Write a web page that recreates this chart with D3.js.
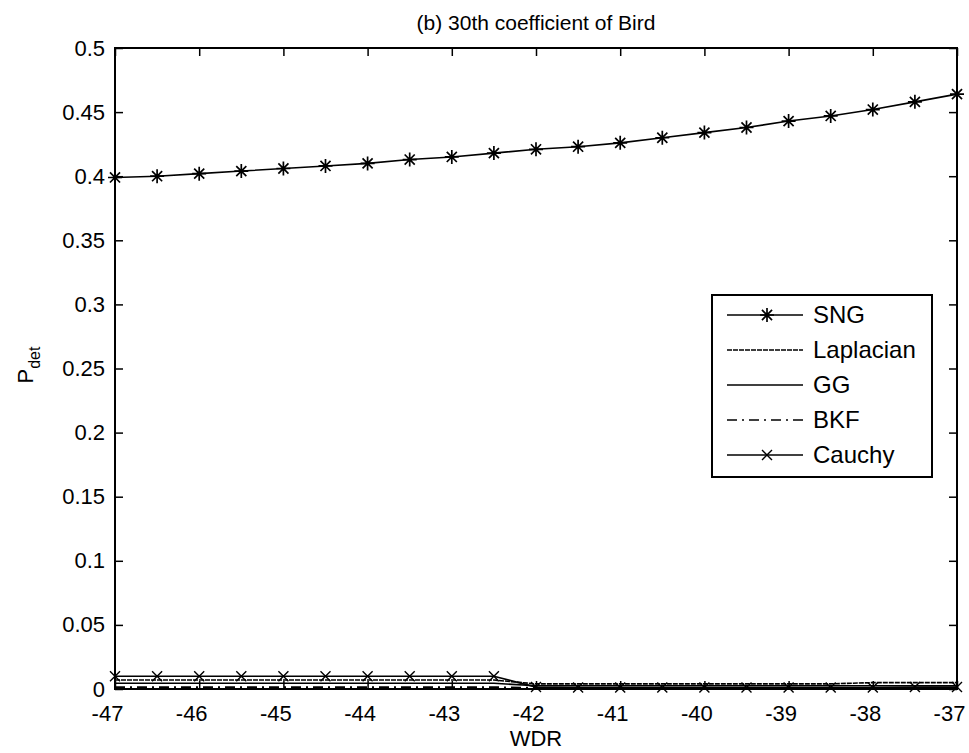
<!DOCTYPE html>
<html>
<head>
<meta charset="utf-8">
<script src="https://cdn.jsdelivr.net/npm/d3@7"></script>
<style>
  body { margin: 0; background: #fff; }
  text { font-family: "Liberation Sans", Arial, Helvetica, sans-serif; fill: #000; }
</style>
</head>
<body>
<div id="chart"></div>
<script>
// WDR values (x) - one point every 0.5
const wdr = [-47, -46.5, -46, -45.5, -45, -44.5, -44, -43.5, -43, -42.5, -42,
             -41.5, -41, -40.5, -40, -39.5, -39, -38.5, -38, -37.5, -37];

// P_det for each detector
const sng = [0.399, 0.400, 0.402, 0.404, 0.406, 0.408, 0.410, 0.413, 0.415, 0.418, 0.421,
             0.423, 0.426, 0.430, 0.434, 0.438, 0.443, 0.447, 0.452, 0.458, 0.464];
const laplacian = [0.007, 0.007, 0.007, 0.007, 0.007, 0.007, 0.007, 0.007, 0.007, 0.007, 0.004,
                   0.004, 0.004, 0.004, 0.004, 0.004, 0.004, 0.004, 0.005, 0.005, 0.005];
const gg = [0.0045, 0.0045, 0.0045, 0.0045, 0.0045, 0.0045, 0.0045, 0.0045, 0.0045, 0.0045, 0.0025,
            0.0025, 0.0025, 0.0025, 0.0025, 0.0025, 0.0025, 0.0025, 0.0025, 0.0025, 0.0025];
const bkf = [0.0015, 0.0015, 0.0015, 0.0015, 0.0015, 0.0015, 0.0015, 0.0015, 0.0015, 0.0015, 0.001,
             0.001, 0.001, 0.001, 0.001, 0.001, 0.001, 0.001, 0.001, 0.001, 0.001];
const cauchy = [0.010, 0.010, 0.010, 0.010, 0.010, 0.010, 0.010, 0.010, 0.010, 0.010, 0.0015,
                0.0012, 0.0012, 0.0012, 0.0012, 0.0012, 0.0012, 0.0012, 0.0012, 0.0015, 0.0015];

const xTicks = [-47, -46, -45, -44, -43, -42, -41, -40, -39, -38, -37];
const yTicks = [0, 0.05, 0.1, 0.15, 0.2, 0.25, 0.3, 0.35, 0.4, 0.45, 0.5];
const seriesNames = ["SNG", "Laplacian", "GG", "BKF", "Cauchy"];

// set the dimensions and margins of the graph
var margin = {top: 48, right: 12, bottom: 64, left: 115},
    width = 969 - margin.left - margin.right,
    height = 753 - margin.top - margin.bottom;

const svgRoot = d3.select("#chart")
  .append("svg")
    .attr("width", 969)
    .attr("height", 753);

const svg = svgRoot.append("g")
    .attr("transform", "translate(" + margin.left + "," + margin.top + ")");

var x = d3.scaleLinear().domain([-47, -37]).range([0, width]);
var y = d3.scaleLinear().domain([0, 0.5]).range([height, 0]);

// axes, ticks pointing inward like matlab
const tickLen = 8;
const fmtY = d => d === 0 ? "0" : String(+d.toFixed(2));

const xAxis = svg.append("g")
    .attr("transform", "translate(0," + height + ")")
    .call(d3.axisBottom(x).tickValues(xTicks).tickSizeInner(-tickLen).tickSizeOuter(0)
          .tickPadding(16).tickFormat(d => d));
xAxis.selectAll("text").attr("font-size", 22).attr("dx", -8);

svg.append("g")
    .call(d3.axisTop(x).tickValues(xTicks).tickSizeInner(-tickLen).tickSizeOuter(0).tickFormat(""));

const yAxis = svg.append("g")
    .call(d3.axisLeft(y).tickValues(yTicks).tickSizeInner(-tickLen).tickSizeOuter(0)
          .tickPadding(10).tickFormat(fmtY));
yAxis.selectAll("text").attr("font-size", 22);

svg.append("g")
    .attr("transform", "translate(" + width + ",0)")
    .call(d3.axisRight(y).tickValues(yTicks).tickSizeInner(-tickLen).tickSizeOuter(0).tickFormat(""));

svg.selectAll(".domain").remove();
svg.selectAll(".tick line").attr("stroke", "#000").attr("stroke-width", 1.5);

// box
svg.append("rect")
    .attr("x", 0).attr("y", 0)
    .attr("width", width).attr("height", height)
    .attr("fill", "none")
    .attr("stroke", "#000")
    .attr("stroke-width", 2);

// lines
const line = d3.line()
    .x(d => x(d[0]))
    .y(d => y(d[1]));

const series = [
  {name: "SNG", values: sng, dash: null, marker: "star"},
  {name: "Laplacian", values: laplacian, dash: "5,1", marker: null},
  {name: "GG", values: gg, dash: null, marker: null},
  {name: "BKF", values: bkf, dash: "10,5,2,5", marker: null},
  {name: "Cauchy", values: cauchy, dash: null, marker: "cross"}
];

function drawMarker(g, type, cx, cy) {
  if (type === "star") {
    const r = 7, d = r * 0.72;
    g.append("path")
      .attr("d", `M${cx - r},${cy}L${cx + r},${cy}M${cx},${cy - r}L${cx},${cy + r}` +
                 `M${cx - d},${cy - d}L${cx + d},${cy + d}M${cx - d},${cy + d}L${cx + d},${cy - d}`)
      .attr("stroke", "#000").attr("stroke-width", 1.7).attr("fill", "none");
  } else if (type === "cross") {
    const r = 5;
    g.append("path")
      .attr("d", `M${cx - r},${cy - r}L${cx + r},${cy + r}M${cx - r},${cy + r}L${cx + r},${cy - r}`)
      .attr("stroke", "#000").attr("stroke-width", 1.4).attr("fill", "none");
  }
}

series.forEach(s => {
  const pts = wdr.map((w, i) => [w, s.values[i]]);
  svg.append("path")
    .datum(pts)
    .attr("fill", "none")
    .attr("stroke", "#000")
    .attr("stroke-width", 1.6)
    .attr("stroke-dasharray", s.dash)
    .attr("d", line);
  if (s.marker) {
    const mg = svg.append("g");
    pts.forEach(p => drawMarker(mg, s.marker, x(p[0]), y(p[1])));
  }
});

// legend
const lg = svg.append("g").attr("transform", "translate(597,247)");
lg.append("rect")
    .attr("width", 220).attr("height", 182)
    .attr("fill", "#fff").attr("stroke", "#000").attr("stroke-width", 2);

series.forEach((s, i) => {
  const yy = 20 + i * 35;
  lg.append("line")
    .attr("x1", 15).attr("x2", 91)
    .attr("y1", yy).attr("y2", yy)
    .attr("stroke", "#000").attr("stroke-width", 1.6)
    .attr("stroke-dasharray", s.dash);
  if (s.marker) drawMarker(lg, s.marker, 55, yy);
  lg.append("text")
    .attr("x", 101).attr("y", yy)
    .attr("dy", "0.35em")
    .attr("font-size", 24)
    .text(seriesNames[i]);
});

// title and labels
svgRoot.append("text")
    .attr("x", margin.left + width / 2).attr("y", 30)
    .attr("text-anchor", "middle")
    .attr("font-size", 21)
    .text("(b) 30th coefficient of Bird");

svgRoot.append("text")
    .attr("x", margin.left + width / 2).attr("y", 746)
    .attr("text-anchor", "middle")
    .attr("font-size", 22)
    .text("WDR");

const yl = svgRoot.append("text")
    .attr("transform", "translate(33,365) rotate(-90)")
    .attr("text-anchor", "middle")
    .attr("font-size", 22);
yl.append("tspan").text("P");
yl.append("tspan").attr("font-size", 16).attr("dy", 7).text("det");
</script>
</body>
</html>
